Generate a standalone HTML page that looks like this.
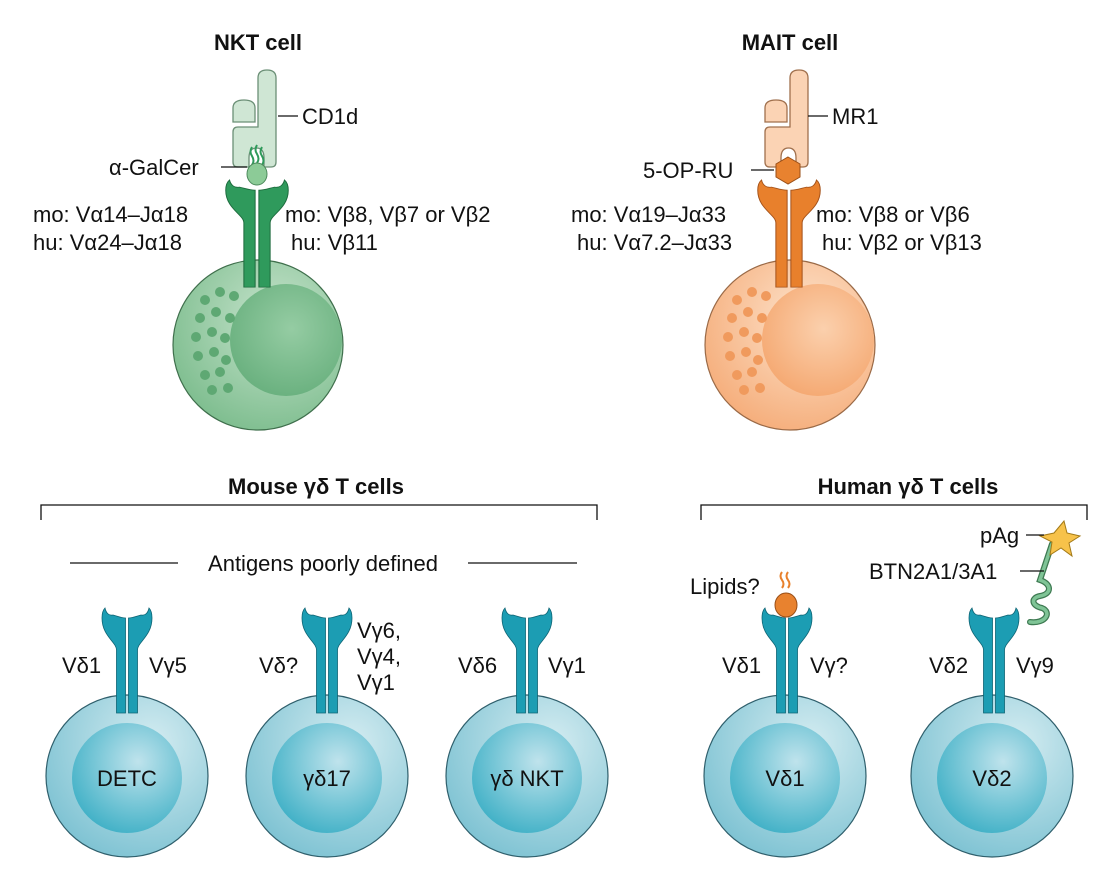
<!DOCTYPE html>
<html><head><meta charset="utf-8"><style>
html,body{margin:0;padding:0;background:#fff;}
svg{display:block;}
text{font-family:"Liberation Sans","DejaVu Sans",sans-serif;fill:#111;font-size:22px;}
.b{font-weight:bold;}
</style></head><body>
<svg width="1114" height="885" viewBox="0 0 1114 885" xmlns="http://www.w3.org/2000/svg">
<defs>
<radialGradient id="gC" cx="0.6" cy="0.35" r="0.7"><stop offset="0" stop-color="#c6e3cc"/><stop offset="1" stop-color="#7dbd8e"/></radialGradient>
<radialGradient id="gN" cx="0.55" cy="0.4" r="0.7"><stop offset="0" stop-color="#95cca3"/><stop offset="1" stop-color="#64ad7a"/></radialGradient>
<radialGradient id="oC" cx="0.6" cy="0.35" r="0.7"><stop offset="0" stop-color="#fde3cc"/><stop offset="1" stop-color="#f5ad7a"/></radialGradient>
<radialGradient id="oN" cx="0.55" cy="0.4" r="0.7"><stop offset="0" stop-color="#fbd0ad"/><stop offset="1" stop-color="#f4a46b"/></radialGradient>
<radialGradient id="bC" cx="0.65" cy="0.3" r="0.75"><stop offset="0" stop-color="#d4ecf1"/><stop offset="1" stop-color="#7fc3d3"/></radialGradient>
<radialGradient id="bN" cx="0.6" cy="0.35" r="0.7"><stop offset="0" stop-color="#bfe3ec"/><stop offset="1" stop-color="#3fb0c6"/></radialGradient>
<path id="rh" d="M -1.5,10 L -1.5,105 L -10.5,105 L -10.5,42 C -10.5,34 -25,28 -25,10 C -25,5 -24,2 -22,0 C -21,5 -18,8 -14,7 C -10,8 -6,10 -1.5,10 Z"/>
<path id="mhc" d="M25,8 Q25,0 34,0 Q43,0 43,8 L43,92 Q43,97 38,97 L31,97 L31,88 Q31,78 23.5,78 Q16,78 16,88 L16,97 L5,97 Q0,97 0,92 L0,62 Q0,57 5,57 L25,57 Z M0,52 L0,38 Q0,30 11,30 Q22,30 22,38 L22,52 Z"/>
</defs>

<!-- NKT cell -->
<text x="258" y="50" text-anchor="middle" class="b">NKT cell</text>
<g transform="translate(233,70)" fill="#cfe6d4" stroke="#6b8f76" stroke-width="1.3"><use href="#mhc"/></g>
<line x1="278" y1="116" x2="298" y2="116" stroke="#111" stroke-width="1.3"/>
<text x="302" y="124">CD1d</text>
<path d="M252,147 q-3,5 0,9 q3,5 0,9 M257,145 q-3,5 0,9 q3,5 0,9 M262,147 q-3,5 0,9 q3,5 0,9" stroke="#2e9a5a" stroke-width="2" fill="none"/>
<ellipse cx="257" cy="174" rx="10" ry="11" fill="#8ccb97" stroke="#4d8a5c" stroke-width="1"/>
<line x1="221" y1="167" x2="247" y2="167" stroke="#111" stroke-width="1.3"/>
<text x="109" y="175">α-GalCer</text>
<circle cx="258" cy="345" r="85" fill="url(#gC)" stroke="#3f6f4c" stroke-width="1.2"/>
<circle cx="286" cy="340" r="56" fill="url(#gN)"/>
<g fill="#5ea873">
<circle cx="205" cy="300" r="5"/><circle cx="220" cy="292" r="5"/><circle cx="234" cy="296" r="5"/><circle cx="200" cy="318" r="5"/><circle cx="216" cy="312" r="5"/><circle cx="230" cy="318" r="5"/><circle cx="196" cy="337" r="5"/><circle cx="212" cy="332" r="5"/><circle cx="225" cy="338" r="5"/><circle cx="198" cy="356" r="5"/><circle cx="214" cy="352" r="5"/><circle cx="226" cy="360" r="5"/><circle cx="205" cy="375" r="5"/><circle cx="220" cy="372" r="5"/><circle cx="212" cy="390" r="5"/><circle cx="228" cy="388" r="5"/>
</g>
<g transform="translate(257,180) scale(1.25,1.02)" fill="#2f9a5c" stroke="#1d6b3d" stroke-width="0.8"><use href="#rh"/><use href="#rh" transform="scale(-1,1)"/></g>
<text x="33" y="222">mo: Vα14–Jα18</text>
<text x="33" y="250">hu: Vα24–Jα18</text>
<text x="285" y="222">mo: Vβ8, Vβ7 or Vβ2</text>
<text x="291" y="250">hu: Vβ11</text>

<!-- MAIT cell -->
<text x="790" y="50" text-anchor="middle" class="b">MAIT cell</text>
<g transform="translate(765,70)" fill="#fbd3b4" stroke="#a0704d" stroke-width="1.3"><use href="#mhc"/></g>
<line x1="808" y1="116" x2="828" y2="116" stroke="#111" stroke-width="1.3"/>
<text x="832" y="124">MR1</text>
<polygon points="788,157 800,164 800,177 788,184 776,177 776,164" fill="#e8822f" stroke="#9a4f17" stroke-width="1"/>
<line x1="751" y1="170" x2="774" y2="170" stroke="#111" stroke-width="1.3"/>
<text x="643" y="178">5-OP-RU</text>
<circle cx="790" cy="345" r="85" fill="url(#oC)" stroke="#9a6a47" stroke-width="1.2"/>
<circle cx="818" cy="340" r="56" fill="url(#oN)"/>
<g fill="#f09a5d">
<circle cx="737" cy="300" r="5"/><circle cx="752" cy="292" r="5"/><circle cx="766" cy="296" r="5"/><circle cx="732" cy="318" r="5"/><circle cx="748" cy="312" r="5"/><circle cx="762" cy="318" r="5"/><circle cx="728" cy="337" r="5"/><circle cx="744" cy="332" r="5"/><circle cx="757" cy="338" r="5"/><circle cx="730" cy="356" r="5"/><circle cx="746" cy="352" r="5"/><circle cx="758" cy="360" r="5"/><circle cx="737" cy="375" r="5"/><circle cx="752" cy="372" r="5"/><circle cx="744" cy="390" r="5"/><circle cx="760" cy="388" r="5"/>
</g>
<g transform="translate(789,180) scale(1.25,1.02)" fill="#e8802c" stroke="#a4521a" stroke-width="0.8"><use href="#rh"/><use href="#rh" transform="scale(-1,1)"/></g>
<text x="571" y="222">mo: Vα19–Jα33</text>
<text x="577" y="250">hu: Vα7.2–Jα33</text>
<text x="816" y="222">mo: Vβ8 or Vβ6</text>
<text x="822" y="250">hu: Vβ2 or Vβ13</text>

<!-- Mouse header -->
<text x="316" y="494" text-anchor="middle" class="b">Mouse γδ T cells</text>
<path d="M41,520 V505 H597 V520" fill="none" stroke="#111" stroke-width="1.3"/>
<line x1="70" y1="563" x2="178" y2="563" stroke="#111" stroke-width="1.3"/>
<line x1="468" y1="563" x2="577" y2="563" stroke="#111" stroke-width="1.3"/>
<text x="323" y="571" text-anchor="middle">Antigens poorly defined</text>

<!-- Human header -->
<text x="908" y="494" text-anchor="middle" class="b">Human γδ T cells</text>
<path d="M701,520 V505 H1087 V520" fill="none" stroke="#111" stroke-width="1.3"/>

<!-- gd cells -->
<circle cx="127" cy="776" r="81" fill="url(#bC)" stroke="#2f5f6c" stroke-width="1.2"/>
<circle cx="127" cy="778" r="55" fill="url(#bN)"/>
<circle cx="327" cy="776" r="81" fill="url(#bC)" stroke="#2f5f6c" stroke-width="1.2"/>
<circle cx="327" cy="778" r="55" fill="url(#bN)"/>
<circle cx="527" cy="776" r="81" fill="url(#bC)" stroke="#2f5f6c" stroke-width="1.2"/>
<circle cx="527" cy="778" r="55" fill="url(#bN)"/>
<circle cx="785" cy="776" r="81" fill="url(#bC)" stroke="#2f5f6c" stroke-width="1.2"/>
<circle cx="785" cy="778" r="55" fill="url(#bN)"/>
<circle cx="992" cy="776" r="81" fill="url(#bC)" stroke="#2f5f6c" stroke-width="1.2"/>
<circle cx="992" cy="778" r="55" fill="url(#bN)"/>
<g fill="#1c9db3" stroke="#0e6474" stroke-width="0.8">
<g transform="translate(127,608)"><use href="#rh"/><use href="#rh" transform="scale(-1,1)"/></g>
<g transform="translate(327,608)"><use href="#rh"/><use href="#rh" transform="scale(-1,1)"/></g>
<g transform="translate(527,608)"><use href="#rh"/><use href="#rh" transform="scale(-1,1)"/></g>
<g transform="translate(787,608)"><use href="#rh"/><use href="#rh" transform="scale(-1,1)"/></g>
<g transform="translate(994,608)"><use href="#rh"/><use href="#rh" transform="scale(-1,1)"/></g>
</g>
<text x="127" y="786" text-anchor="middle">DETC</text>
<text x="327" y="786" text-anchor="middle">γδ17</text>
<text x="527" y="786" text-anchor="middle">γδ NKT</text>
<text x="785" y="786" text-anchor="middle">Vδ1</text>
<text x="992" y="786" text-anchor="middle">Vδ2</text>

<text x="62" y="673">Vδ1</text>
<text x="149" y="673">Vγ5</text>
<text x="259" y="673">Vδ?</text>
<text x="357" y="638">Vγ6,</text>
<text x="357" y="664">Vγ4,</text>
<text x="357" y="690">Vγ1</text>
<text x="458" y="673">Vδ6</text>
<text x="548" y="673">Vγ1</text>
<text x="722" y="673">Vδ1</text>
<text x="810" y="673">Vγ?</text>
<text x="929" y="673">Vδ2</text>
<text x="1016" y="673">Vγ9</text>

<!-- lipids -->
<path d="M782,572 q-3,4 0,8 q3,4 0,8 M788,572 q-3,4 0,8 q3,4 0,8" stroke="#e8802c" stroke-width="2" fill="none"/>
<ellipse cx="786" cy="605" rx="11" ry="12" fill="#e8822f" stroke="#9a4f17" stroke-width="1"/>
<text x="690" y="594">Lipids?</text>

<!-- BTN and pAg -->
<path d="M1052,544 L1040,580 C1052,584 1052,594 1040,596 C1030,598 1032,606 1042,608 C1052,612 1046,624 1030,622" stroke="#3e7a52" stroke-width="6" fill="none" stroke-linecap="round"/>
<path d="M1052,544 L1040,580 C1052,584 1052,594 1040,596 C1030,598 1032,606 1042,608 C1052,612 1046,624 1030,622" stroke="#7fc496" stroke-width="3.5" fill="none" stroke-linecap="round"/>
<polygon points="1064,521 1067,533 1080,536 1069,543 1072,556 1061,548 1050,555 1052,542 1040,536 1054,533" fill="#f7c24a" stroke="#a37a18" stroke-width="1"/>
<line x1="1026" y1="535" x2="1044" y2="535" stroke="#111" stroke-width="1.3"/>
<text x="980" y="543">pAg</text>
<line x1="1020" y1="571" x2="1044" y2="571" stroke="#111" stroke-width="1.3"/>
<text x="869" y="579">BTN2A1/3A1</text>
</svg>
</body></html>
